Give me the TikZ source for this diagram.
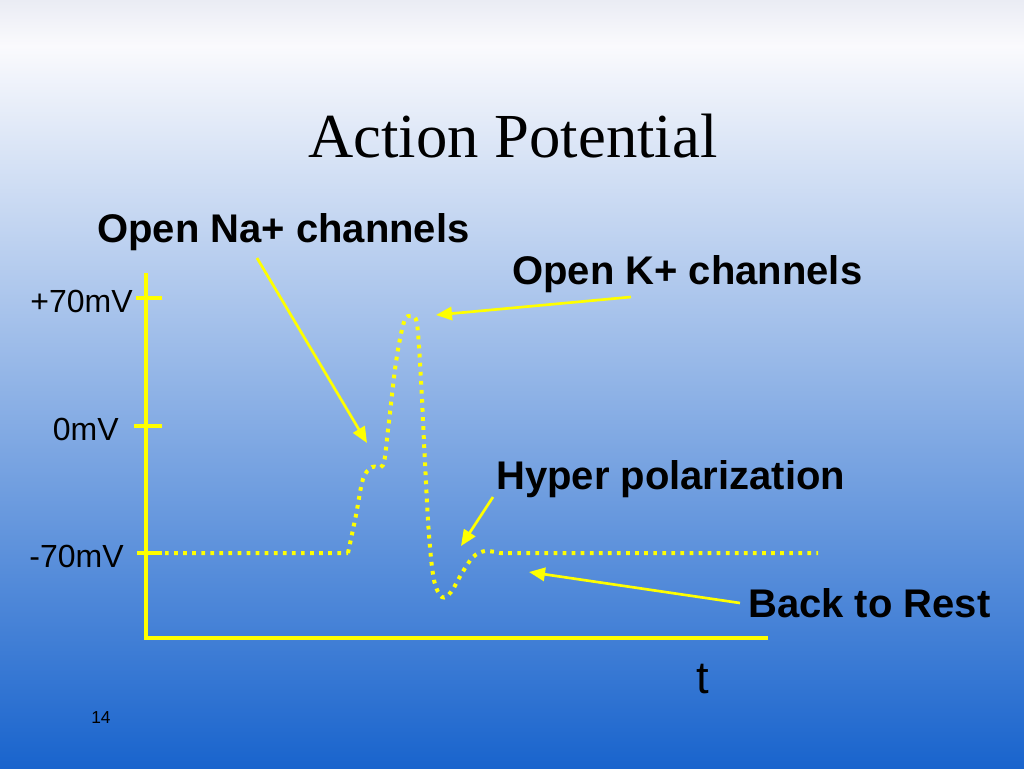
\documentclass[tikz,border=0pt]{standalone}
\usepackage{fontspec}
\setmainfont{Liberation Serif}
\setsansfont{Liberation Sans}
\usetikzlibrary{arrows.meta}

\pgfdeclareverticalshading{slidebg}{100bp}{%
  color(0bp)=(rgb,255:red,25;green,100;blue,205);
  color(25bp)=(rgb,255:red,25;green,100;blue,205);
  color(72bp)=(rgb,255:red,250;green,250;blue,253);
  color(75bp)=(rgb,255:red,234;green,236;blue,244);
  color(100bp)=(rgb,255:red,234;green,236;blue,244)}

\tikzset{
  axisline/.style={draw={rgb,255:red,255;green,255;blue,0}, line width=3pt},
  pointer/.style={draw={rgb,255:red,255;green,255;blue,0}, line width=2pt, -{Triangle[length=12pt,width=10pt]}},
  trace/.style={draw={rgb,255:red,255;green,255;blue,0}, line width=3pt, dash pattern=on 2.8pt off 4pt},
  callout/.style={inner sep=0pt, anchor=base west, font=\sffamily\bfseries\fontsize{30}{32}\selectfont},
  ticklabel/.style={inner sep=0pt, anchor=base east, font=\sffamily\fontsize{24}{26}\selectfont}
}

\begin{document}
\begin{tikzpicture}[x=0.75pt,y=0.75pt,yscale=-1,xscale=1]
\useasboundingbox (0,0) rectangle (1024,768);

%Shape: Background
\shade [shading=slidebg] (0,0) rectangle (1024,768);

%Title
\node [inner sep=0pt, anchor=base, font=\fontsize{47}{50}\selectfont] (title) at (513,157) {Action Potential};

%Straight Lines: axes
\draw [axisline]   (146,273) -- (146,638) -- (768,638) ;
\draw [axisline]   (136,298) -- (162,298) ;
\draw [axisline]   (134,426) -- (162,426) ;
\draw [axisline]   (137,553) -- (162,553) ;

%Axis labels
\node [ticklabel] (plus70) at (133,312) {+70mV};
\node [ticklabel] (zero) at (119,440) {0mV};
\node [ticklabel] (minus70) at (124,567) {-70mV};
\node [inner sep=0pt, anchor=base, font=\sffamily\fontsize{34}{36}\selectfont] (time) at (703,693) {t};
\node [inner sep=0pt, anchor=base west, font=\sffamily\fontsize{13}{15}\selectfont] (slideno) at (91,723) {14};

%Curve: membrane potential
\draw [trace]   (165,553) -- (348,553) plot [smooth, tension=0.55] coordinates {(348,553) (356,515) (363,479) (372,467) (383,465) (388,430) (396,362) (404,322) (411,316) (417,324) (421,380) (425,463) (429,535) (434,580) (442,597) (451,592) (462,573) (473,557) (485,551) (500,553)} -- (818,553) ;

%Callouts
\node [callout] (na) at (97,242) {Open Na+ channels};
\node [callout] (k) at (512,284) {Open K+ channels};
\node [callout] (hyper) at (496,489) {Hyper polarization};
\node [callout] (rest) at (748,617) {Back to Rest};

%Straight Lines: pointers
\coordinate (naTail) at (257,258);
\coordinate (naTip) at (367,443);
\coordinate (kTail) at (631,297);
\coordinate (kTip) at (436,315);
\coordinate (hyperTail) at (493,497);
\coordinate (hyperTip) at (461,546);
\coordinate (restTail) at (740,603);
\coordinate (restTip) at (529,572);
\draw [pointer]   (naTail) -- (naTip) ;
\draw [pointer]   (kTail) -- (kTip) ;
\draw [pointer]   (hyperTail) -- (hyperTip) ;
\draw [pointer]   (restTail) -- (restTip) ;
\end{tikzpicture}
\end{document}
